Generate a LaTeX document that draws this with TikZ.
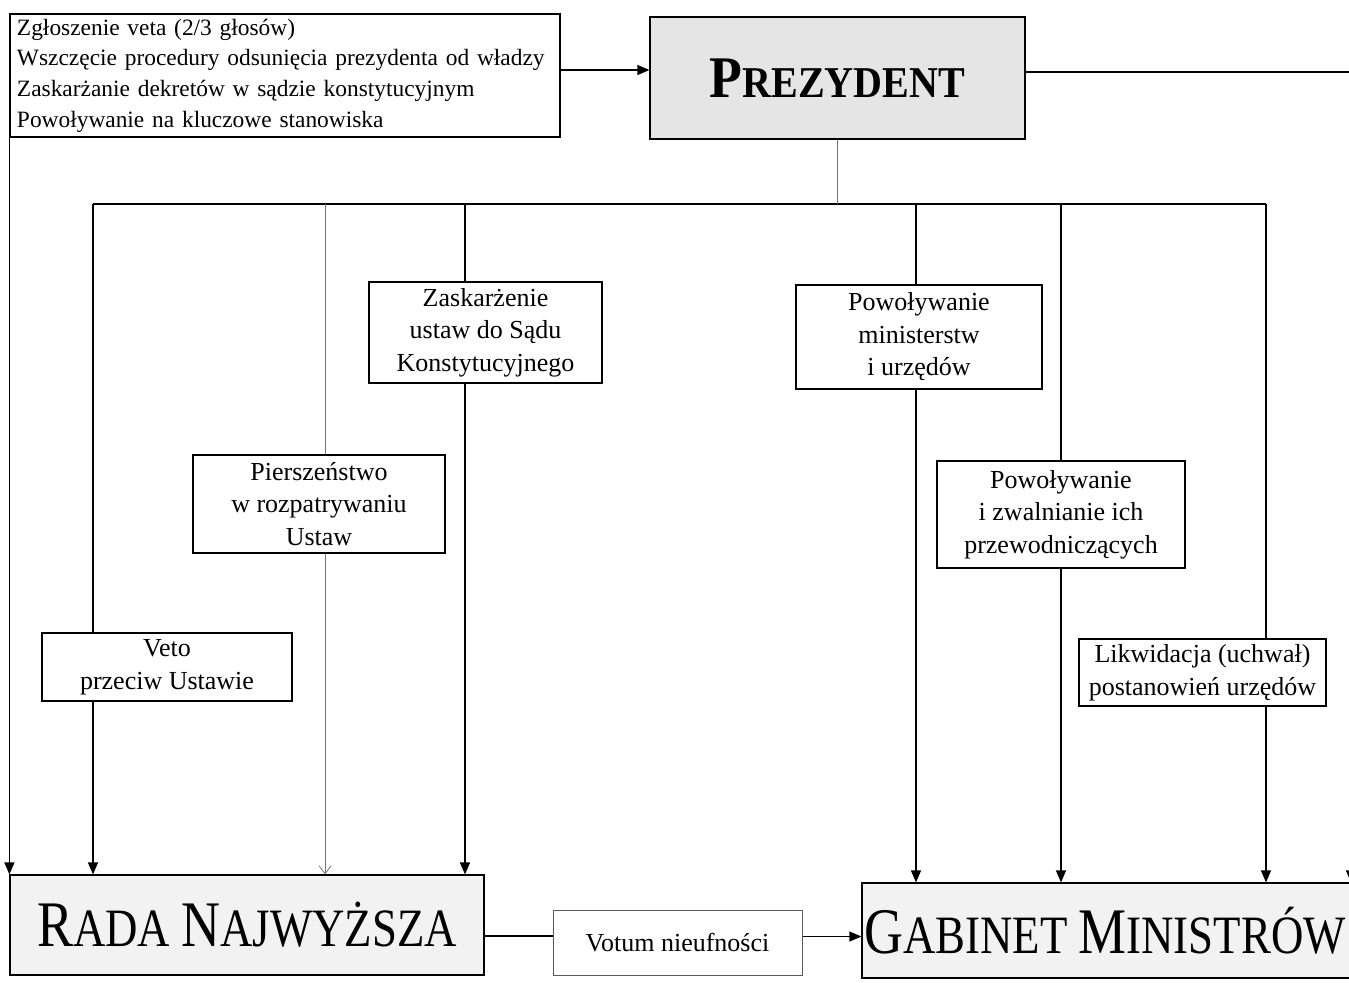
\documentclass[tikz,border=0pt]{standalone}
\usepackage{fontspec}
\setmainfont{Liberation Serif}
\newfontfamily\headfont[FakeStretch=0.83]{Liberation Serif}
\newfontfamily\presfont[FakeStretch=0.91]{Liberation Serif}
\usetikzlibrary{arrows.meta,backgrounds}
\newcommand\hbig{\fontsize{32.5pt}{36pt}\selectfont}
\newcommand\hsmall{\fontsize{27pt}{30pt}\selectfont}
\tikzset{
  ln/.style={line width=0.6pt, black},
  thinln/.style={line width=0.4pt, black!55},
  arr/.style={ln, -{Triangle[length=6pt,width=5pt]}},
  openarr/.style={thinln, -{Straight Barb[length=4pt,width=6pt]}},
  box/.style={draw, line width=0.6pt, fill=white, align=center, inner sep=0pt,
    font=\fontsize{13pt}{16.25pt}\selectfont},
  headbox/.style={draw, line width=0.6pt, fill=black!5, align=center, inner sep=0pt,
    font=\headfont},
}
\begin{document}
\begin{tikzpicture}[x=0.5pt, y=-0.5pt]
\useasboundingbox (0,0) rectangle (1349,982);
\clip (0,0) rectangle (1349,982);

% nodes
\node[draw, line width=0.6pt, fill=white, inner xsep=3.5pt, inner ysep=0pt,
  minimum width=275pt, minimum height=61.5pt, text width=268pt, align=left,
  font=\fontsize{11.7pt}{15.3pt}\selectfont] (tl) at (285,75.5)
  {Zgłoszenie veta (2/3 głosów)\\
   Wszczęcie procedury odsunięcia prezydenta od władzy\\
   Zaskarżanie dekretów w sądzie konstytucyjnym\\
   Powoływanie na kluczowe stanowiska};

\node[draw, line width=0.6pt, fill=black!10, inner sep=0pt,
  minimum width=187.5pt, minimum height=61pt] (pres) at (837.5,78)
  {\presfont\bfseries\fontsize{29.5pt}{32pt}\selectfont P\fontsize{22pt}{24pt}\selectfont REZYDENT};

\node[box, minimum width=116.5pt, minimum height=50.5pt] (zask) at (485.5,332.5)
  {Zaskarżenie\\ustaw do Sądu\\Konstytucyjnego};
\node[box, minimum width=126pt, minimum height=49pt] (pier) at (319,504)
  {Pierszeństwo\\w rozpatrywaniu\\Ustaw};
\node[box, minimum width=125pt, minimum height=34pt] (veto) at (167,667)
  {Veto\\przeciw Ustawie};
\node[box, minimum width=123pt, minimum height=52pt] (powmin) at (919,337)
  {Powoływanie\\ministerstw\\i urzędów};
\node[box, minimum width=124pt, minimum height=53.5pt] (powzw) at (1061,514.5)
  {Powoływanie\\i zwalnianie ich\\przewodniczących};
\node[box, minimum width=123.5pt, minimum height=33.5pt] (likw) at (1202.5,672.5)
  {Likwidacja (uchwał)\\postanowień urzędów};

\node[headbox, minimum width=237pt, minimum height=50pt] (rada) at (247,925)
  {\hbig R\hsmall ADA \hbig N\hsmall AJWYŻSZA};
\node[box, draw=black!65, line width=0.45pt, minimum width=124.5pt, minimum height=32.5pt] (votum) at (677.5,942.5)
  {Votum nieufności};
\node[headbox, minimum width=249pt, minimum height=47.5pt] (gab) at (1111,930.5)
  {\hbig G\hsmall ABINET \hbig M\hsmall INISTRÓW\hspace*{6pt}};

% connectors
\coordinate (busL) at (93,204);
\coordinate (busR) at (1266,204);
\coordinate (d1) at (93,204);
\coordinate (d2) at (325,204);
\coordinate (d3) at (465,204);
\coordinate (d4) at (916,204);
\coordinate (d5) at (1061,204);
\coordinate (d6) at (1266,204);
\coordinate (rr) at (1351,0);
\begin{scope}[on background layer]
  \fill[white] (0,0) rectangle (1349,982);
  \draw[ln] (busL) -- (busR);
  \draw[thinln] (pres.south) -- (pres.south |- busL);
  \draw[arr] (d1) -- (d1 |- rada.north);
  \draw[openarr] (d2) -- (d2 |- rada.north);
  \draw[arr] (d3) -- (d3 |- rada.north);
  \draw[arr] (d4) -- (d4 |- gab.north);
  \draw[arr] (d5) -- (d5 |- gab.north);
  \draw[arr] (d6) -- (d6 |- gab.north);
  \draw[arr] (tl.south west) -- (rada.north west);
  \draw[arr] ([yshift=3pt]pres.east) -| (rr |- gab.north);
  \draw[arr] ([yshift=2.75pt]tl.east) -- ([yshift=2.75pt]tl.east -| pres.west);
  \draw[ln] ([yshift=-5.5pt]rada.east) -- ([yshift=-5.5pt]rada.east -| votum.west);
  \draw[arr] ([yshift=3pt]votum.east) -- ([yshift=3pt]votum.east -| gab.west);
\end{scope}
\end{tikzpicture}
\end{document}
